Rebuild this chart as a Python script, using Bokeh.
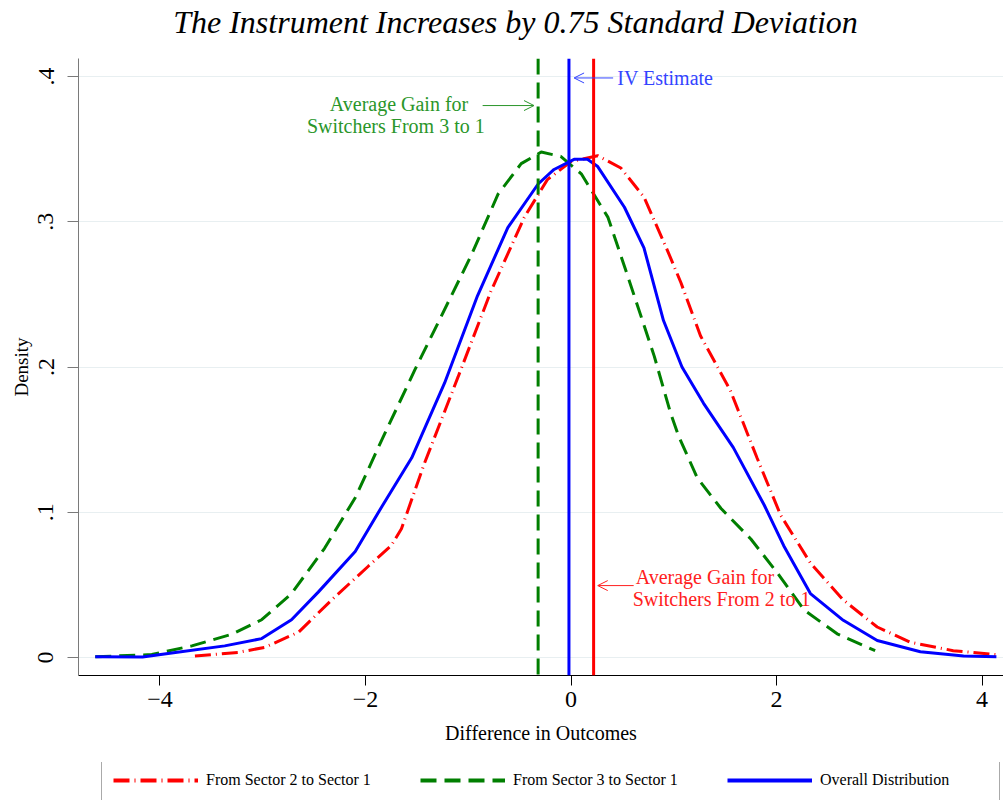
from bokeh.plotting import figure
from bokeh.layouts import column
from bokeh.models import (Legend, LegendItem, Span, Arrow, OpenHead, Label,
                          FixedTicker, Range1d)
from bokeh.embed import file_html
from bokeh.resources import INLINE

# ---- data ----
overall_x = [-4.63, -4.17, -3.85, -3.37, -3.01, -2.72, -2.46, -2.10, -1.84, -1.55,
             -1.23, -0.91, -0.615, -0.32, -0.165, 0.03, 0.16, 0.26, 0.52, 0.71,
             0.90, 1.08, 1.29, 1.58, 1.88, 2.07, 2.33, 2.65, 2.98, 3.40, 3.82, 4.14]
overall_y = [0.0005, 0.0003, 0.0035, 0.008, 0.013, 0.026, 0.045, 0.073, 0.104, 0.1375,
             0.189, 0.249, 0.296, 0.326, 0.336, 0.343, 0.343, 0.338, 0.310, 0.282,
             0.232, 0.200, 0.175, 0.1445, 0.105, 0.077, 0.044, 0.0256, 0.0117, 0.004, 0.001, 0.0005]

s3_x = [-4.63, -4.08, -3.69, -3.30, -3.01, -2.72, -2.40, -2.10, -1.84, -1.52,
        -1.29, -0.97, -0.71, -0.485, -0.29, -0.10, 0.10, 0.36, 0.55, 0.81,
        0.97, 1.05, 1.23, 1.46, 1.75, 2.01, 2.27, 2.59, 2.96]
s3_y = [0.0005, 0.002, 0.008, 0.016, 0.026, 0.044, 0.075, 0.110, 0.150, 0.198,
        0.231, 0.277, 0.319, 0.340, 0.348, 0.345, 0.333, 0.303, 0.263, 0.2075,
        0.168, 0.152, 0.1235, 0.1026, 0.0816, 0.058, 0.0326, 0.0163, 0.0047]

s2_x = [-3.66, -3.24, -2.98, -2.65, -2.33, -1.97, -1.75, -1.65, -1.43, -1.10,
        -0.78, -0.455, -0.23, 0.0, 0.26, 0.485, 0.71, 0.94, 1.07, 1.26,
        1.55, 1.81, 2.04, 2.33, 2.65, 2.98, 3.30, 3.72, 4.14]
s2_y = [0.001, 0.0035, 0.007, 0.0175, 0.0396, 0.063, 0.077, 0.0886, 0.133, 0.193,
        0.252, 0.303, 0.329, 0.3415, 0.3455, 0.337, 0.317, 0.280, 0.258, 0.2215,
        0.184, 0.1375, 0.098, 0.065, 0.0396, 0.021, 0.0105, 0.0047, 0.002]

gain_3_to_1 = -0.32
iv_estimate = -0.02
gain_2_to_1 = 0.22

x_ticks = [-4, -2, 0, 2, 4]
x_tick_labels = ["\u22124", "\u22122", "0", "2", "4"]
y_ticks = [0, 0.1, 0.2, 0.3, 0.4]
y_tick_labels = ["0", ".1", ".2", ".3", ".4"]

title_text = "The Instrument Increases by 0.75 Standard Deviation"
legend_labels = ["From Sector 2 to Sector 1", "From Sector 3 to Sector 1", "Overall Distribution"]

SERIF = "Liberation Serif"
RED = "#ff0000"
GREEN = "#007f00"
BLUE = "#0000ff"
RED_DASH = "16 5 1 5"
GREEN_DASH = "16 8"
X_RANGE = (-4.793, 4.209)

# ---- title strip ----
tf = figure(width=1003, height=58, output_backend="svg", toolbar_location=None,
            x_range=Range1d(*X_RANGE), y_range=Range1d(0, 58),
            x_axis_type=None, y_axis_type=None,
            min_border_left=78, min_border_right=0, min_border_top=0, min_border_bottom=0)
tf.outline_line_color = None
tf.background_fill_color = "white"
tf.border_fill_color = "white"
tf.add_layout(Label(x=-0.54, y=37, text=title_text, text_font=SERIF,
                    text_font_style="italic", text_font_size="32px",
                    text_color="#000000", text_align="center", text_baseline="middle"))

# ---- main plot ----
p = figure(width=1003, height=704, output_backend="svg", toolbar_location=None,
           x_range=Range1d(*X_RANGE), y_range=Range1d(-0.0124, 0.4124),
           min_border_left=78, min_border_right=0, min_border_top=0,
           min_border_bottom=87)
p.outline_line_color = None
p.background_fill_color = "white"
p.border_fill_color = "white"

# grid
p.xgrid.grid_line_color = None
p.ygrid.ticker = FixedTicker(ticks=y_ticks)
p.ygrid.grid_line_color = "#e8eff1"
p.ygrid.grid_line_width = 1

# axes
xa = p.xaxis[0]
xa.ticker = FixedTicker(ticks=x_ticks)
xa.major_label_overrides = {t: l for t, l in zip(x_ticks, x_tick_labels)}
xa.axis_label = "Difference in Outcomes"
xa.axis_label_text_font = SERIF
xa.axis_label_text_font_style = "normal"
xa.axis_label_text_font_size = "20px"
xa.axis_label_text_color = "#000000"
xa.axis_label_standoff = 12
xa.major_label_text_font = SERIF
xa.major_label_text_font_size = "24px"
xa.major_label_text_color = "#000000"
xa.major_label_standoff = 6
xa.major_tick_out = 10
xa.major_tick_in = 0
xa.minor_tick_line_color = None
xa.axis_line_color = "#000000"
xa.major_tick_line_color = "#000000"

ya = p.yaxis[0]
ya.ticker = FixedTicker(ticks=y_ticks)
ya.major_label_overrides = {t: l for t, l in zip(y_ticks, y_tick_labels)}
ya.major_label_orientation = "vertical"
ya.axis_label = "Density"
ya.axis_label_text_font = SERIF
ya.axis_label_text_font_style = "normal"
ya.axis_label_text_font_size = "19px"
ya.axis_label_text_color = "#000000"
ya.axis_label_standoff = 4
ya.major_label_text_font = SERIF
ya.major_label_text_font_size = "24px"
ya.major_label_text_color = "#000000"
ya.major_label_standoff = 14
ya.major_tick_out = 11
ya.major_tick_in = 0
ya.minor_tick_line_color = None
ya.axis_line_color = "#7a7a7a"
ya.major_tick_line_color = "#7a7a7a"

# vertical reference lines
p.add_layout(Span(location=gain_3_to_1, dimension="height", line_color=GREEN,
                  line_width=3, line_dash=GREEN_DASH))
p.add_layout(Span(location=iv_estimate, dimension="height", line_color=BLUE, line_width=3))
p.add_layout(Span(location=gain_2_to_1, dimension="height", line_color=RED, line_width=3))

# curves
p.line(s2_x, s2_y, line_color=RED, line_width=3, line_dash=RED_DASH)
p.line(s3_x, s3_y, line_color=GREEN, line_width=3, line_dash=GREEN_DASH)
p.line(overall_x, overall_y, line_color=BLUE, line_width=3)

# annotations
IV_C = "#3344ff"
GR_C = "#2a962a"
RD_C = "#ff2020"
p.add_layout(Arrow(end=OpenHead(size=10, line_color=IV_C, line_width=1),
                   x_start=iv_estimate + 0.43, y_start=0.399,
                   x_end=iv_estimate + 0.05, y_end=0.399,
                   line_color=IV_C, line_width=1))
p.add_layout(Label(x=iv_estimate + 0.47, y=0.399, text="IV Estimate", text_font=SERIF,
                   text_font_size="20px", text_color=IV_C, text_baseline="middle"))

p.add_layout(Arrow(end=OpenHead(size=10, line_color=GR_C, line_width=1),
                   x_start=gain_3_to_1 - 0.54, y_start=0.380,
                   x_end=gain_3_to_1 - 0.04, y_end=0.380,
                   line_color=GR_C, line_width=1))
p.add_layout(Label(x=gain_3_to_1 - 0.68, y=0.381, text="Average Gain for", text_font=SERIF,
                   text_font_size="20px", text_color=GR_C, text_baseline="middle",
                   text_align="right"))
p.add_layout(Label(x=gain_3_to_1 - 0.52, y=0.366, text="Switchers From 3 to 1", text_font=SERIF,
                   text_font_size="20px", text_color=GR_C, text_baseline="middle",
                   text_align="right"))

p.add_layout(Arrow(end=OpenHead(size=10, line_color=RD_C, line_width=1),
                   x_start=gain_2_to_1 + 0.39, y_start=0.0495,
                   x_end=gain_2_to_1 + 0.04, y_end=0.0495,
                   line_color=RD_C, line_width=1))
p.add_layout(Label(x=gain_2_to_1 + 0.41, y=0.0555, text="Average Gain for", text_font=SERIF,
                   text_font_size="20px", text_color=RD_C, text_baseline="middle"))
p.add_layout(Label(x=gain_2_to_1 + 0.38, y=0.0405, text="Switchers From 2 to 1", text_font=SERIF,
                   text_font_size="20px", text_color=RD_C, text_baseline="middle"))

# ---- legend strip (frame aligned with the main frame) ----
lf = figure(width=1003, height=38, output_backend="svg", toolbar_location=None,
            x_range=Range1d(*X_RANGE), y_range=Range1d(5, 6),
            x_axis_type=None, y_axis_type=None,
            min_border_left=78, min_border_right=0, min_border_top=0, min_border_bottom=0)
lf.outline_line_color = None
lf.background_fill_color = "white"
lf.border_fill_color = "white"
# same series drawn again (outside the strip's visible range) to supply legend glyphs
k2 = lf.line(s2_x, s2_y, line_color=RED, line_width=4, line_dash=RED_DASH)
k3 = lf.line(s3_x, s3_y, line_color=GREEN, line_width=4, line_dash=GREEN_DASH)
k1 = lf.line(overall_x, overall_y, line_color=BLUE, line_width=4)

legend = Legend(items=[LegendItem(label=legend_labels[0], renderers=[k2]),
                       LegendItem(label=legend_labels[1], renderers=[k3]),
                       LegendItem(label=legend_labels[2], renderers=[k1])],
                orientation="horizontal", location=(23, -1),
                glyph_width=85, glyph_height=16, label_width=168, spacing=46,
                padding=11, label_standoff=8, margin=0,
                border_line_color="#555555", border_line_width=1,
                label_text_font=SERIF, label_text_font_size="16px",
                label_text_color="#000000",
                background_fill_color="white")
lf.add_layout(legend, "center")

open("out.html", "w").write(file_html(column(tf, p, lf, spacing=0), INLINE))
